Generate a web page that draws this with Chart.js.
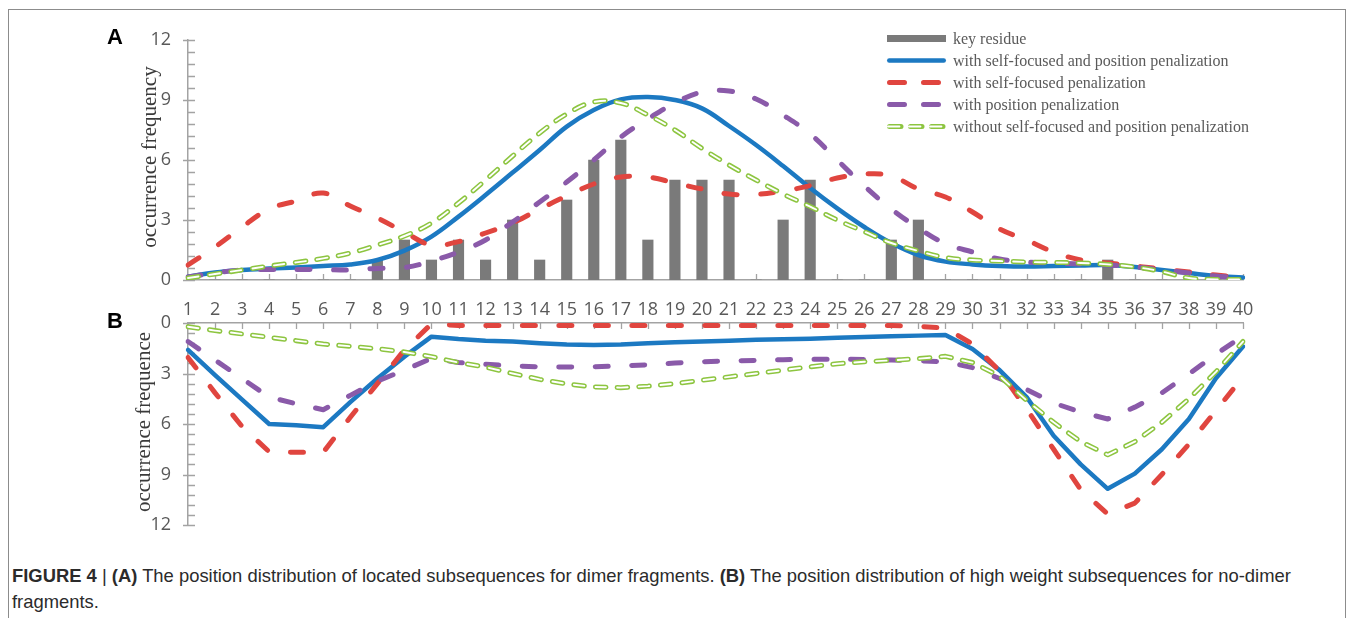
<!DOCTYPE html>
<html>
<head>
<meta charset="utf-8">
<title>Position distribution of subsequences</title>
<script src="https://cdn.jsdelivr.net/npm/chart.js@4.4.1/dist/chart.umd.min.js"></script>
<style>
  html, body { margin: 0; padding: 0; background: #ffffff; }
  body { width: 1356px; height: 618px; position: relative; overflow: hidden; }
  #frame { position: absolute; left: 8px; top: 9px; width: 1338px; height: 660px;
           border: 1px solid #8c8c8c; box-sizing: border-box; }
  canvas { position: absolute; left: 0; }
  #chartA { top: 0; }
  #chartB { top: 290px; }
  .panel { position: absolute; left: 107px; font: bold 22px "Liberation Sans", Arial, sans-serif;
           line-height: 22px; color: #000; }
  #caption { position: absolute; left: 12px; top: 563px; width: 1334px;
             font: 18.4px "Liberation Sans", Arial, sans-serif; line-height: 26px; color: #2b2b2b; }
</style>
</head>
<body>
<div id="frame"></div>
<canvas id="chartA" width="1356" height="300"></canvas>
<canvas id="chartB" width="1356" height="250"></canvas>
<div class="panel" style="top:26px">A</div>
<div class="panel" style="top:310px">B</div>
<div id="caption"><b>FIGURE 4</b> | <b>(A)</b> The position distribution of located subsequences for dimer fragments. <b>(B)</b> The position distribution of high weight subsequences for no-dimer<br>fragments.</div>

<script>
// Residue positions along the fragment
const positions = ['1','2','3','4','5','6','7','8','9','10',
                   '11','12','13','14','15','16','17','18','19','20',
                   '21','22','23','24','25','26','27','28','29','30',
                   '31','32','33','34','35','36','37','38','39','40'];

// (A) dimer fragments
const keyResidue = [0,0,0,0,0,0,0,1,2,1, 2,1,3,1,4,6,7,2,5,5, 5,0,3,5,0,0,2,3,0,0, 0,0,0,0,1,0,0,0,0,0];
const selfFocusedAndPositionA = [0.17,0.38,0.5,0.57,0.63,0.7,0.78,1.0,1.47,2.17,
                                 3.17,4.25,5.37,6.5,7.67,8.5,9.03,9.15,9.0,8.58,
                                 7.7,6.75,5.7,4.6,3.58,2.65,1.85,1.25,0.92,0.78,
                                 0.7,0.67,0.7,0.73,0.75,0.65,0.5,0.35,0.2,0.12];
const selfFocusedA = [0.75,1.65,2.65,3.55,3.95,4.35,3.7,3.1,2.4,1.75,
                      1.92,2.35,2.85,3.55,4.2,4.8,5.15,5.15,4.85,4.55,
                      4.3,4.28,4.45,4.72,5.1,5.3,5.2,4.55,4.15,3.4,
                      2.55,2.0,1.4,1.0,0.85,0.7,0.55,0.4,0.25,0.1];
const positionOnlyA = [0.15,0.35,0.5,0.52,0.53,0.52,0.5,0.58,0.62,0.95,
                       1.4,2.0,2.9,3.9,4.9,6.0,7.15,8.05,8.85,9.4,
                       9.45,9.05,8.25,7.3,6.0,4.7,3.55,2.6,1.82,1.4,
                       1.05,0.9,0.85,0.8,0.75,0.65,0.5,0.35,0.2,0.1];
const withoutPenaltyA = [0.1,0.3,0.5,0.7,0.88,1.08,1.35,1.75,2.2,2.85,
                         3.85,5.0,6.2,7.35,8.3,8.9,8.85,8.25,7.5,6.58,
                         5.75,5.0,4.3,3.67,3.0,2.42,1.85,1.45,1.12,1.0,
                         0.95,0.9,0.88,0.85,0.78,0.65,0.42,0.1,0.03,0.03];

// (B) no-dimer fragments
const selfFocusedAndPositionB = [1.6,3.1,4.55,6.0,6.08,6.19,4.7,3.3,2.0,0.81,
                                 0.95,1.05,1.1,1.2,1.27,1.3,1.27,1.2,1.15,1.1,
                                 1.05,1.0,0.97,0.93,0.87,0.83,0.79,0.75,0.72,1.55,
                                 2.8,4.4,6.7,8.4,9.85,8.95,7.5,5.7,3.28,1.4];
const selfFocusedB = [2.05,4.15,6.15,7.65,7.68,7.68,5.6,3.6,1.6,0.05,
                      0.15,0.15,0.15,0.15,0.15,0.15,0.15,0.15,0.15,0.15,
                      0.15,0.15,0.15,0.15,0.15,0.15,0.15,0.2,0.3,1.25,
                      2.85,5.1,7.5,9.9,11.35,10.7,9.0,7.2,5.2,3.2];
const positionOnlyB = [1.1,2.2,3.3,4.4,4.8,5.15,4.3,3.45,2.8,2.1,
                       2.35,2.45,2.55,2.6,2.62,2.6,2.55,2.48,2.38,2.3,
                       2.25,2.22,2.18,2.15,2.15,2.17,2.2,2.25,2.3,2.65,
                       3.3,3.95,4.75,5.3,5.7,5.0,4.15,3.03,1.85,0.78];
const withoutPenaltyB = [0.22,0.45,0.65,0.85,1.05,1.25,1.38,1.53,1.72,2.0,
                         2.35,2.62,3.0,3.35,3.62,3.8,3.84,3.75,3.6,3.4,
                         3.2,3.0,2.8,2.6,2.42,2.3,2.22,2.12,1.98,2.35,
                         3.15,4.6,5.9,7.05,7.83,7.05,5.9,4.5,2.9,1.1];

// Axis ticks and legend entries
const yTickValues = [0, 3, 6, 9, 12];
const seriesNames = ['key residue',
                     'with self-focused and position penalization',
                     'with self-focused penalization',
                     'with position penalization',
                     'without self-focused and position penalization'];
const titleA = 'occurrence frequency';
const titleB = 'occurrence frequence';

const COLORS = {
  bar: '#7a7a7a', blue: '#1c79c2', red: '#e0453f', purple: '#8a5aa9', green: '#8dc540',
  axis: '#a3a3a3', tickText: '#595959', title: '#3a3a3a', legendText: '#5a5a5a'
};
const LONG_DASH = [13, 23.5];
const SHORT_DASH = [10.5, 11.2];

function solidLine(data, tension, order) {
  return { type: 'line', data, borderColor: COLORS.blue, borderWidth: 4.5, tension, order,
           borderCapStyle: 'round', borderJoinStyle: 'round', pointRadius: 0, pointHoverRadius: 0, fill: false };
}
function dashLine(data, color, tension, order) {
  return { type: 'line', data, borderColor: color, borderWidth: 5, borderDash: LONG_DASH, tension, order,
           borderCapStyle: 'round', borderJoinStyle: 'round', pointRadius: 0, pointHoverRadius: 0, fill: false };
}
// hollow dashes: a green dash with a thin white core on the same path
function hollowLine(data, tension, order, core) {
  return { type: 'line', data, borderColor: core ? '#ffffff' : COLORS.green, borderWidth: core ? 1.9 : 5,
           borderDash: SHORT_DASH, tension, order, borderCapStyle: 'round', borderJoinStyle: 'round',
           pointRadius: 0, pointHoverRadius: 0, fill: false };
}

// Tick marks: category ticks pointing into the plot, major y ticks crossing, minor y ticks inside
const axisMarks = {
  id: 'axisMarks',
  beforeDatasetsDraw(chart, args, opts) {
    const { ctx } = chart;
    const xs = chart.scales.x, ys = chart.scales.y;
    const axisY = ys.getPixelForValue(0);
    const axisX = xs.left;
    ctx.save();
    ctx.strokeStyle = COLORS.axis;
    ctx.lineWidth = 1.3;
    ctx.beginPath();
    for (let i = 0; i < chart.data.labels.length; i++) {
      const px = Math.round(xs.getPixelForValue(i)) + 0.5;
      ctx.moveTo(px, axisY);
      ctx.lineTo(px, axisY + opts.dir * 6);
    }
    const top = yTickValues[yTickValues.length - 1];
    const minorStep = (yTickValues[1] - yTickValues[0]) / 5;
    for (let k = 0; k * minorStep <= top + 1e-9; k++) {
      const py = Math.round(ys.getPixelForValue(k * minorStep)) + 0.5;
      ctx.moveTo(axisX - (k % 5 === 0 ? 5 : 0), py);
      ctx.lineTo(axisX + 7, py);
    }
    ctx.stroke();
    ctx.restore();
  },
  afterDraw(chart, args, opts) {
    const { ctx } = chart;
    ctx.save();
    ctx.translate(opts.titleX, opts.titleY);
    ctx.rotate(-Math.PI / 2);
    ctx.font = '21px "Liberation Serif", "Times New Roman", serif';
    ctx.fillStyle = COLORS.title;
    ctx.textAlign = 'center';
    ctx.textBaseline = 'alphabetic';
    ctx.fillText(opts.title, 0, 0);
    ctx.restore();
  }
};

// Legend drawn inside panel A, top right
const lineLegend = {
  id: 'lineLegend',
  afterDraw(chart) {
    const { ctx } = chart;
    const x0 = 887, x1 = 946, textX = 953;
    const rows = [38.5, 60.5, 82.5, 104.5, 126.5];
    ctx.save();
    // key residue
    ctx.fillStyle = COLORS.bar;
    ctx.fillRect(x0, rows[0] - 3.5, x1 - x0, 7);
    const seg = (y, color, width, dash) => {
      ctx.beginPath();
      ctx.setLineDash(dash);
      ctx.lineCap = 'round';
      ctx.strokeStyle = color;
      ctx.lineWidth = width;
      ctx.moveTo(x0 + width / 2, y);
      ctx.lineTo(x1 - width / 2, y);
      ctx.stroke();
    };
    seg(rows[1], COLORS.blue, 4.5, []);
    seg(rows[2], COLORS.red, 5, [15, 19]);
    seg(rows[3], COLORS.purple, 5, [15, 19]);
    seg(rows[4], COLORS.green, 5, [11.5, 9.5]);
    seg(rows[4], '#ffffff', 1.9, [11.5, 9.5]);
    ctx.setLineDash([]);
    ctx.font = '16px "Liberation Serif", "Times New Roman", serif';
    ctx.fillStyle = COLORS.legendText;
    ctx.textBaseline = 'middle';
    seriesNames.forEach((name, i) => ctx.fillText(name, textX, rows[i] + 1));
    ctx.restore();
  }
};

const tickFont = { family: '"Open Sans", "Liberation Sans", sans-serif', size: 18 };

function yScale(reverse) {
  return {
    type: 'linear', min: 0, max: 12, reverse,
    afterBuildTicks: s => { s.ticks = yTickValues.map(v => ({ value: v })); },
    ticks: { font: tickFont, color: COLORS.tickText, padding: 17 },
    grid: { display: false, drawTicks: false },
    border: { display: true, color: COLORS.axis, width: 1.5 },
    afterFit: s => { s.width = 188; s.paddingTop = 0; s.paddingBottom = 0; }
  };
}

Chart.defaults.animation = false;

// Panel A: dimer fragments
new Chart(document.getElementById('chartA'), {
  data: {
    labels: positions,
    datasets: [
      { type: 'bar', data: keyResidue, backgroundColor: COLORS.bar, barThickness: 10.5, order: 6 },
      solidLine(selfFocusedAndPositionA, 0.4, 5),
      dashLine(selfFocusedA, COLORS.red, 0.4, 4),
      dashLine(positionOnlyA, COLORS.purple, 0.4, 3),
      hollowLine(withoutPenaltyA, 0.4, 2, false),
      hollowLine(withoutPenaltyA, 0.4, 1, true)
    ]
  },
  options: {
    responsive: false, devicePixelRatio: 1, animation: false,
    layout: { padding: { left: 0, right: 113, top: 40, bottom: 0 } },
    plugins: {
      legend: { display: false }, tooltip: { enabled: false },
      axisMarks: { dir: -1, title: titleA, titleX: 156, titleY: 157 }
    },
    scales: {
      x: { type: 'category', offset: false,
           ticks: { display: false },
           grid: { display: false, drawTicks: false },
           border: { display: true, color: COLORS.axis, width: 1.5 },
           afterFit: s => { s.height = 20; } },
      y: yScale(false)
    }
  },
  plugins: [axisMarks, lineLegend]
});

// Panel B: no-dimer fragments (axis reversed, positions labelled on top)
new Chart(document.getElementById('chartB'), {
  data: {
    labels: positions,
    datasets: [
      solidLine(selfFocusedAndPositionB, 0, 5),
      dashLine(selfFocusedB, COLORS.red, 0, 4),
      dashLine(positionOnlyB, COLORS.purple, 0, 3),
      hollowLine(withoutPenaltyB, 0, 2, false),
      hollowLine(withoutPenaltyB, 0, 1, true)
    ]
  },
  options: {
    responsive: false, devicePixelRatio: 1, animation: false,
    layout: { padding: { left: 0, right: 113, top: 0, bottom: 15 } },
    plugins: {
      legend: { display: false }, tooltip: { enabled: false },
      axisMarks: { dir: 1, title: titleB, titleX: 150, titleY: 132 }
    },
    scales: {
      x: { type: 'category', position: 'top', offset: false,
           ticks: { font: tickFont, color: COLORS.tickText, padding: 2, autoSkip: false, maxRotation: 0 },
           grid: { display: false, drawTicks: false },
           border: { display: true, color: COLORS.axis, width: 1.5 },
           afterFit: s => { s.height = 33; } },
      y: yScale(true)
    }
  },
  plugins: [axisMarks]
});
</script>
</body>
</html>
